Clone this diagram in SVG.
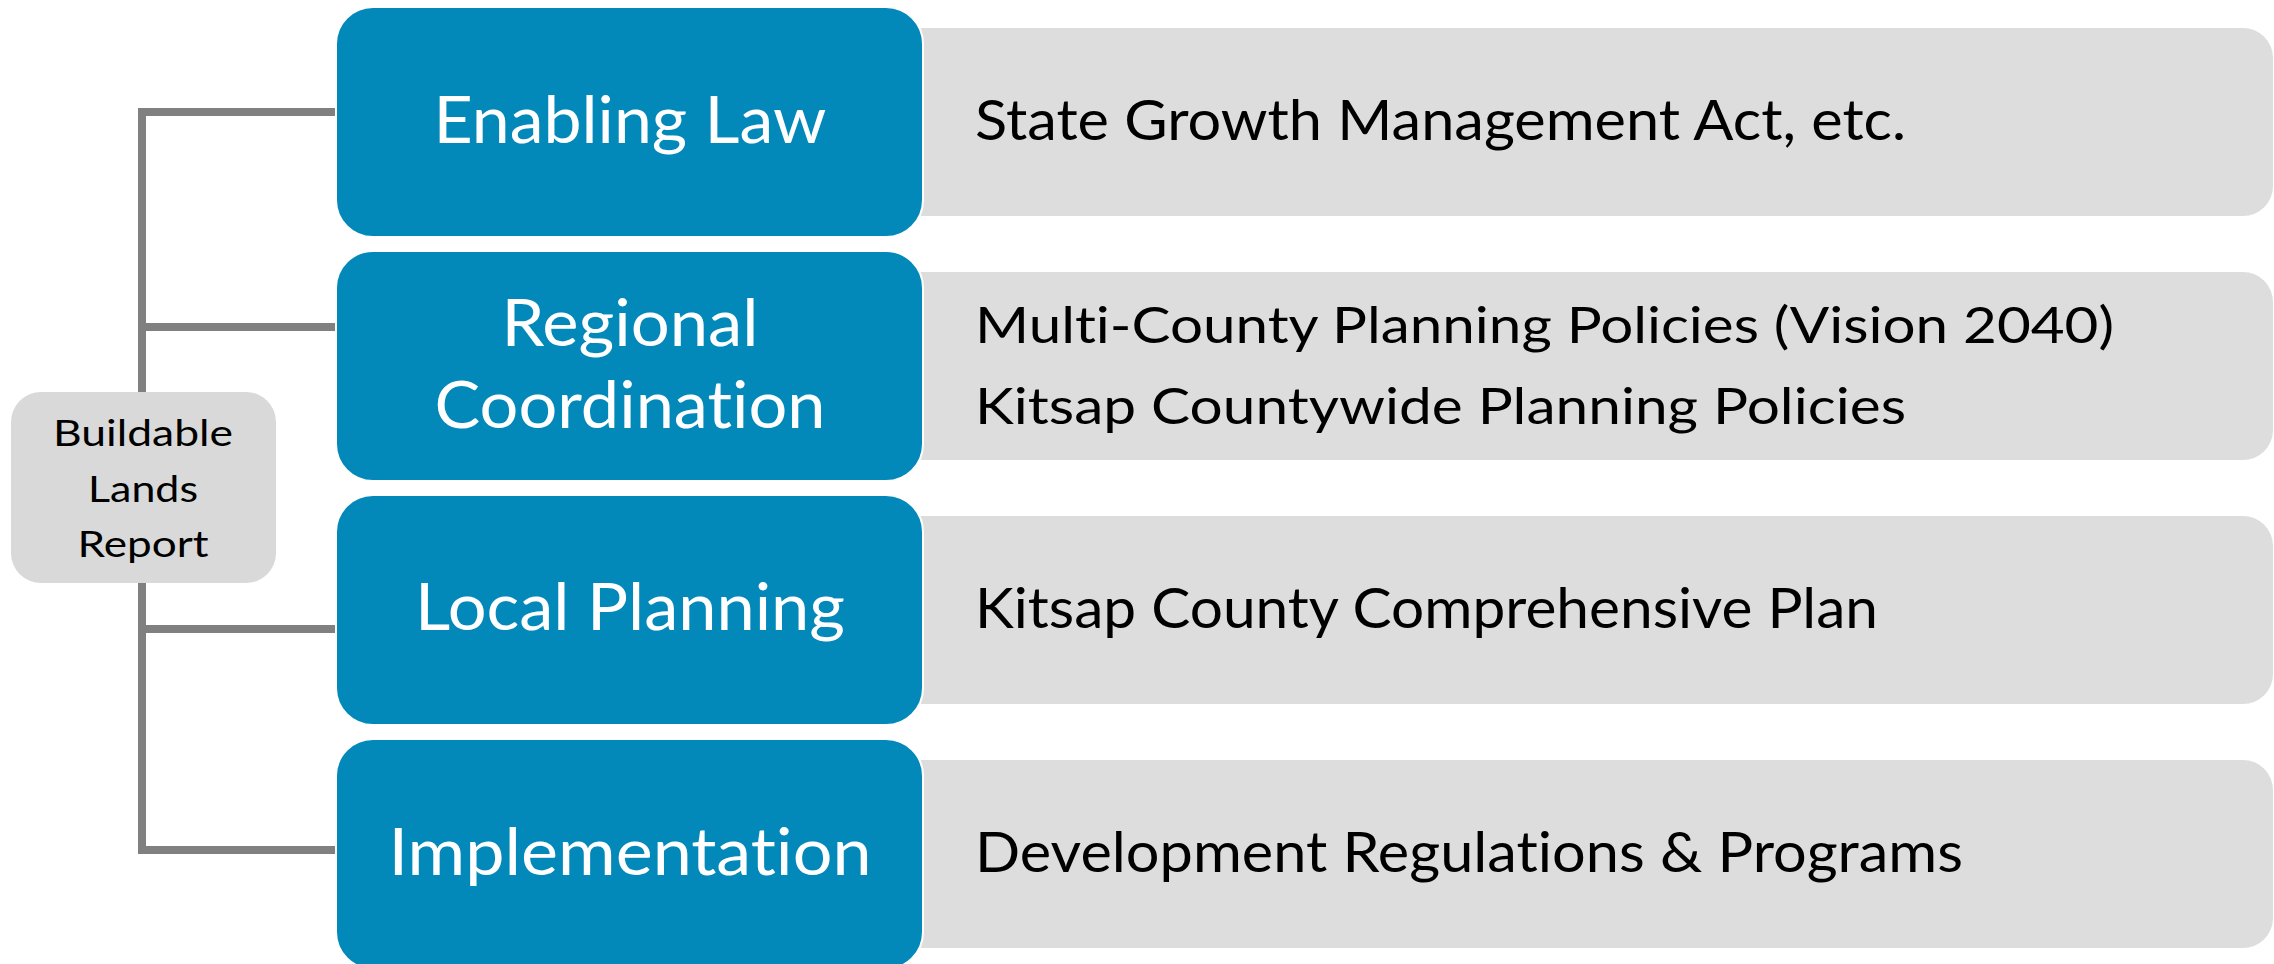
<svg xmlns="http://www.w3.org/2000/svg" width="2274" height="964" viewBox="0 0 2274 964">
  <style>
    text { font-variant-ligatures: none; font-feature-settings: "liga" 0, "clig" 0; }
    .detail { fill: #DDDDDD; }
    .stage { fill: #0289BA; stroke: #FFFFFF; stroke-width: 2; }
    .report { fill: #D9D9D9; }
    .stage-text { font-family: Lato, "Open Sans", sans-serif; font-size: 65px; fill: #FFFFFF; text-anchor: middle; }
    .detail-text { font-family: Lato, "Open Sans", sans-serif; font-size: 57px; fill: #000000; }
    .detail-text.small { font-size: 50px; }
    .report-text { font-family: Lato, "Open Sans", sans-serif; font-size: 36px; fill: #000000; text-anchor: middle; }
    .link { fill: none; stroke: #808080; stroke-width: 8; stroke-linejoin: miter; stroke-linecap: butt; }
  </style>

  <!-- connectors from the report to each planning stage -->
  <g id="connectors">
    <path class="link" d="M 338 112 H 142 V 392"/>
    <path class="link" d="M 142 327 H 338"/>
    <path class="link" d="M 142 583 V 850 H 338"/>
    <path class="link" d="M 142 629 H 338"/>
  </g>

  <!-- detail panels (behind the stage boxes) -->
  <g id="detail-enabling-law">
    <rect class="detail" x="880" y="28" width="1393" height="188" rx="30" ry="30"/>
    <text class="detail-text" x="975" y="140" textLength="931" lengthAdjust="spacingAndGlyphs">State Growth Management Act, etc.</text>
  </g>
  <g id="detail-regional">
    <rect class="detail" x="880" y="272" width="1393" height="188" rx="30" ry="30"/>
    <text class="detail-text small" x="975" y="343" textLength="1139" lengthAdjust="spacingAndGlyphs">Multi-County Planning Policies (Vision 2040)</text>
    <text class="detail-text small" x="975" y="424" textLength="931" lengthAdjust="spacingAndGlyphs">Kitsap Countywide Planning Policies</text>
  </g>
  <g id="detail-local">
    <rect class="detail" x="880" y="516" width="1393" height="188" rx="30" ry="30"/>
    <text class="detail-text" x="975" y="628" textLength="903" lengthAdjust="spacingAndGlyphs">Kitsap County Comprehensive Plan</text>
  </g>
  <g id="detail-implementation">
    <rect class="detail" x="880" y="760" width="1393" height="188" rx="30" ry="30"/>
    <text class="detail-text" x="975" y="872" textLength="988" lengthAdjust="spacingAndGlyphs">Development Regulations &amp; Programs</text>
  </g>

  <!-- planning stages -->
  <g id="stage-enabling-law">
    <rect class="stage" x="336" y="7" width="587" height="230" rx="37" ry="37"/>
    <text class="stage-text" x="630" y="143" textLength="393" lengthAdjust="spacingAndGlyphs">Enabling Law</text>
  </g>
  <g id="stage-regional">
    <rect class="stage" x="336" y="251" width="587" height="230" rx="37" ry="37"/>
    <text class="stage-text" x="630" y="346" textLength="257" lengthAdjust="spacingAndGlyphs">Regional</text>
    <text class="stage-text" x="630" y="428" textLength="391" lengthAdjust="spacingAndGlyphs">Coordination</text>
  </g>
  <g id="stage-local">
    <rect class="stage" x="336" y="495" width="587" height="230" rx="37" ry="37"/>
    <text class="stage-text" x="630" y="630" textLength="430" lengthAdjust="spacingAndGlyphs">Local Planning</text>
  </g>
  <g id="stage-implementation">
    <rect class="stage" x="336" y="739" width="587" height="230" rx="37" ry="37"/>
    <text class="stage-text" x="630" y="875" textLength="483" lengthAdjust="spacingAndGlyphs">Implementation</text>
  </g>

  <!-- report box -->
  <g id="buildable-lands-report">
    <rect class="report" x="11" y="392" width="265" height="191" rx="30" ry="30"/>
    <text class="report-text" x="143" y="446" textLength="180" lengthAdjust="spacingAndGlyphs">Buildable</text>
    <text class="report-text" x="143" y="502" textLength="110" lengthAdjust="spacingAndGlyphs">Lands</text>
    <text class="report-text" x="143" y="557" textLength="131" lengthAdjust="spacingAndGlyphs">Report</text>
  </g>
</svg>
